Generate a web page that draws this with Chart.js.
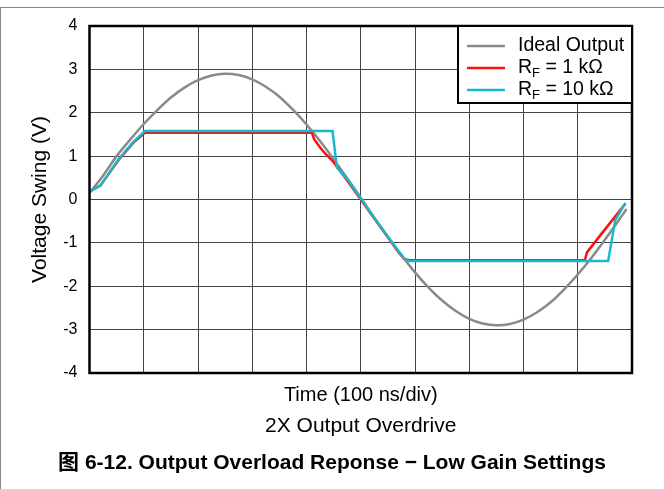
<!DOCTYPE html>
<html>
<head>
<meta charset="utf-8">
<script src="https://cdn.jsdelivr.net/npm/chart.js@4.4.0/dist/chart.umd.min.js"></script>
<style>
  body { margin: 0; background: #fff; }
  #wrap { position: relative; width: 664px; height: 489px; }
  #marco { position: absolute; left: 0; top: 7px; width: 663px; height: 482px;
           border-top: 1px solid #888; border-left: 1px solid #888; pointer-events: none; }
</style>
</head>
<body>
<div id="wrap">
  <canvas id="grafico" width="664" height="489"></canvas>
  <div id="marco"></div>
</div>
<script>
// Tiempo en divisiones (100 ns/div), tension en V
const xIdeal = [0, 0.25, 0.5, 0.75, 1, 1.25, 1.5, 1.75, 2, 2.25, 2.5, 2.75, 3, 3.25, 3.5, 3.75,
  4, 4.25, 4.5, 4.75, 5, 5.25, 5.5, 5.75, 6, 6.25, 6.5, 6.75, 7, 7.25, 7.5, 7.75,
  8, 8.25, 8.5, 8.75, 9, 9.25, 9.5, 9.75, 9.9];
const yIdeal = [0.15, 0.55, 1.00, 1.38, 1.74, 2.06, 2.35, 2.58, 2.75, 2.86, 2.90, 2.87, 2.77, 2.60, 2.37, 2.07,
  1.73, 1.35, 0.93, 0.49, 0.04, -0.42, -0.86, -1.28, -1.68, -2.03, -2.33, -2.57, -2.75, -2.86, -2.90, -2.87,
  -2.77, -2.60, -2.37, -2.07, -1.73, -1.35, -0.93, -0.49, -0.22];

const xRf1 = [0, 0.2, 0.53, 0.8, 1.02, 4.1, 4.14, 4.3, 4.5, 4.75, 5.0, 5.25, 5.5, 5.7, 5.8, 5.9, 9.13, 9.17, 9.4, 9.59, 9.88];
const yRf1 = [0.18, 0.32, 0.9, 1.3, 1.54, 1.54, 1.39, 1.12, 0.86, 0.44, 0.0, -0.44, -0.87, -1.22, -1.37, -1.40, -1.40, -1.22, -0.85, -0.55, -0.09];

const xRf10 = [0, 0.2, 0.53, 0.8, 1.02, 4.48, 4.56, 4.75, 5.0, 5.25, 5.5, 5.7, 5.8, 5.9, 9.56, 9.69, 9.88];
const yRf10 = [0.18, 0.32, 0.92, 1.32, 1.58, 1.58, 0.74, 0.47, 0.02, -0.43, -0.86, -1.2, -1.36, -1.42, -1.42, -0.48, -0.08];

const etiquetas = ['Ideal Output', 'R|F| = 1 kΩ', 'R|F| = 10 kΩ'];
const colores = ['#8a8a8a', '#ff1010', '#17b9cc'];

const puntos = (xs, ys) => xs.map((x, i) => ({ x: x, y: ys[i] }));

Chart.defaults.font.family = "Arial, 'Liberation Sans', sans-serif";
Chart.defaults.color = '#000';

// Marco grueso del area y leyenda con subindice
const marcoLeyenda = {
  id: 'marcoLeyenda',
  afterDatasetsDraw(chart) {
    const ctx = chart.ctx;
    const a = chart.chartArea;
    ctx.save();
    ctx.strokeStyle = '#000';
    ctx.lineWidth = 2.5;
    ctx.strokeRect(a.left, a.top, a.right - a.left, a.bottom - a.top);

    const w = 174, h = 77;
    const x0 = a.right - w, y0 = a.top;
    ctx.fillStyle = '#fff';
    ctx.fillRect(x0, y0, w, h);
    ctx.lineWidth = 2;
    ctx.strokeRect(x0, y0, w, h);

    ctx.textBaseline = 'middle';
    etiquetas.forEach((txt, i) => {
      const y = y0 + 20 + i * 22;
      ctx.strokeStyle = colores[i];
      ctx.lineWidth = 2.5;
      ctx.beginPath();
      ctx.moveTo(x0 + 9, y);
      ctx.lineTo(x0 + 47, y);
      ctx.stroke();

      let x = x0 + 60;
      ctx.fillStyle = '#000';
      txt.split('|').forEach((parte, j) => {
        if (j === 1) {
          ctx.font = '13px Arial';
          ctx.fillText(parte, x, y + 5);
        } else {
          ctx.font = '19.5px Arial';
          ctx.fillText(parte, x, y);
        }
        x += ctx.measureText(parte).width;
      });
    });
    ctx.restore();
  }
};

const ctx = document.getElementById('grafico').getContext('2d');
new Chart(ctx, {
  type: 'line',
  data: {
    datasets: [
      { label: etiquetas[0], data: puntos(xIdeal, yIdeal), borderColor: colores[0], borderWidth: 2.5, tension: 0.3, order: 2 },
      { label: etiquetas[1], data: puntos(xRf1, yRf1), borderColor: colores[1], borderWidth: 2.5, order: 1 },
      { label: etiquetas[2], data: puntos(xRf10, yRf10), borderColor: colores[2], borderWidth: 2.5, order: 0 }
    ]
  },
  options: {
    responsive: false,
    animation: false,
    elements: { point: { radius: 0 } },
    layout: { padding: { top: 26, right: 0, left: 0, bottom: 0 } },
    plugins: {
      legend: { display: false },
      tooltip: { enabled: false },
      subtitle: {
        display: true, position: 'bottom', text: '2X Output Overdrive', fullSize: false,
        font: { size: 21, weight: 'normal' }, padding: { top: 1, bottom: 1 }
      },
      title: {
        display: true, position: 'bottom', text: '图 6-12. Output Overload Reponse − Low Gain Settings',
        font: { size: 21, weight: 'bold', family: "Arial, 'Liberation Sans', 'Noto Sans CJK SC', sans-serif" },
        padding: { top: 10.2, bottom: 13.4 }
      }
    },
    scales: {
      x: {
        type: 'linear', min: 0, max: 10,
        ticks: { display: false, stepSize: 1 },
        grid: { color: '#444', lineWidth: 1, drawTicks: false },
        border: { display: false },
        title: { display: true, text: 'Time (100 ns/div)', font: { size: 20 }, padding: { top: 4, bottom: 6 } },
        afterFit: (s) => { s.height = 40; }
      },
      y: {
        min: -4, max: 4,
        ticks: { stepSize: 1, padding: 12, font: { size: 16 } },
        grid: { color: '#444', lineWidth: 1, drawTicks: false },
        border: { display: false },
        title: { display: true, text: 'Voltage Swing (V)', font: { size: 21 }, padding: { top: 28, bottom: 0 } },
        afterFit: (s) => { s.width = 89.5; }
      },
      margen: {
        position: 'right', min: -4, max: 4,
        ticks: { display: false },
        grid: { display: false, drawTicks: false },
        border: { display: false },
        afterFit: (s) => { s.width = 32; }
      }
    }
  },
  plugins: [marcoLeyenda]
});
</script>
</body>
</html>
